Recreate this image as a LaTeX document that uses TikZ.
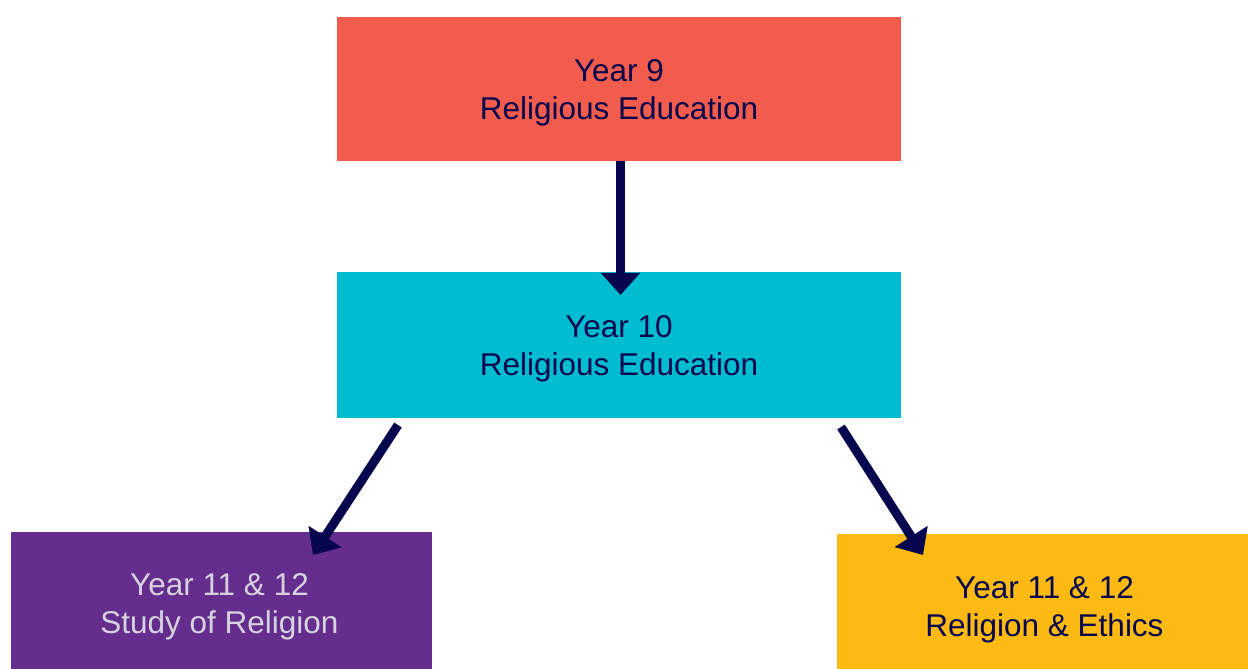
\documentclass[tikz,border=0pt]{standalone}
\usepackage{fontspec}
\setmainfont{Liberation Sans}
\usepackage{tikz}
\usetikzlibrary{arrows.meta}
\usetikzlibrary{calc}

\definecolor{boxred}{HTML}{F25C4C}
\definecolor{boxcyan}{HTML}{00BCD0}
\definecolor{boxpurple}{HTML}{652D8E}
\definecolor{boxyellow}{HTML}{FCBA12}
\definecolor{navy}{HTML}{06064E}
\definecolor{paletext}{HTML}{D6D2DE}

\begin{document}
\begin{tikzpicture}[
        x=1pt, y=1pt,
        font=\fontsize{31.5}{38}\selectfont,
        yearbox/.style={rectangle, inner sep=0pt},
        yeartext/.style={inner sep=0pt, align=center, text=navy},
        flow/.style={-{Triangle[length=22pt, width=38pt]}, line width=9pt, navy}
    ]
        % --- Marco ---
        \useasboundingbox (0,0) rectangle (1248,669);

        % --- Cajas ---
        \node[yearbox, fill=boxred, minimum width=564pt, minimum height=144pt] (Y9) at (619,580) {};
        \node[yearbox, fill=boxcyan, minimum width=564pt, minimum height=146pt] (Y10) at (619,324) {};
        \node[yearbox, fill=boxpurple, minimum width=421pt, minimum height=137pt] (SoR) at (221.5,68.5) {};
        \node[yearbox, fill=boxyellow, minimum width=411pt, minimum height=135pt] (RaE) at (1042.5,67.5) {};

        % --- Textos ---
        \node[yeartext] (Y9text) at ([yshift=-4pt]Y9.center) {Year 9\\Religious Education};
        \node[yeartext] (Y10text) at ([yshift=-4pt]Y10.center) {Year 10\\Religious Education};
        \node[yeartext, text=paletext] (SoRtext) at ([xshift=-2pt, yshift=-6pt]SoR.center) {Year 11 \& 12\\Study of Religion};
        \node[yeartext] (RaEtext) at ([xshift=2pt, yshift=-8pt]RaE.center) {Year 11 \& 12\\Religion \& Ethics};

        % --- Puntos de las flechas ---
        \coordinate (TipA) at (620.5,374);
        \coordinate (StartL) at (398,244);
        \coordinate (TipL) at (313,114);
        \coordinate (StartR) at (841,242);
        \coordinate (TipR) at (923,114);

        % --- Flechas ---
        \draw[flow] (Y9.south -| TipA) -- (TipA);
        \draw[flow] (StartL) -- (TipL);
        \draw[flow] (StartR) -- (TipR);

    \end{tikzpicture}
\end{document}
